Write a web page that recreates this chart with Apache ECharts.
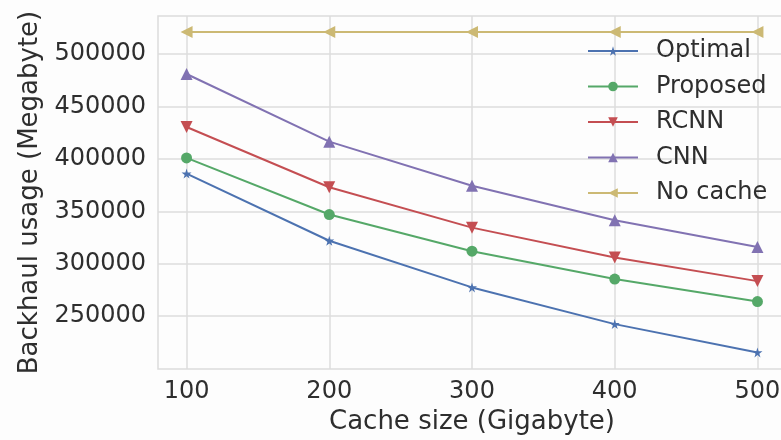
<!DOCTYPE html>
<html>
<head>
<meta charset="utf-8">
<script src="https://cdn.jsdelivr.net/npm/echarts@6/dist/echarts.min.js"></script>
<style>
  html, body { margin: 0; padding: 0; background: #fdfdfd; }
  #chart { width: 781px; height: 440px; }
</style>
</head>
<body>
<div id="chart"></div>
<script>
// cache sizes (Gigabyte)
const cacheSizes = [100, 200, 300, 400, 500];
// backhaul usage (Megabyte)
const optimal = [386000, 322000, 277500, 242500, 215500];
const proposed = [401000, 347000, 312000, 285500, 264000];
const rcnn = [430500, 373000, 334500, 306000, 283500];
const cnn = [481000, 416500, 374500, 341500, 316000];
const noCache = [521000, 521000, 521000, 521000, 521000];
const xTicks = [100, 200, 300, 400, 500];
const yTicks = [250000, 300000, 350000, 400000, 450000, 500000];

const font = "DejaVu Sans";
const textColor = "#2e2e2e";
const gridColor = "#dcdcdc";
const star = "path://M50,0 L61,35 L98,35 L68,57 L79,91 L50,70 L21,91 L32,57 L2,35 L39,35 Z";

function pairs(vals) {
  return cacheSizes.map((x, i) => [x, vals[i]]);
}

function line(name, vals, color, symbol, size, rotate) {
  return {
    name: name,
    type: "line",
    data: pairs(vals),
    symbol: symbol,
    symbolSize: size,
    symbolRotate: rotate || 0,
    showSymbol: true,
    lineStyle: { width: 2, color: color },
    itemStyle: { color: color },
    emphasis: { disabled: true },
    animation: false,
  };
}

const chart = echarts.init(document.getElementById("chart"));
chart.setOption({
  backgroundColor: "#fdfdfd",
  textStyle: { fontFamily: font },
  grid: {
    left: 158,
    top: 16,
    width: 628,
    height: 353,
    outerBoundsMode: "none",
    containLabel: false,
    show: true,
    borderColor: gridColor,
    borderWidth: 1.5,
    backgroundColor: "#fdfdfd",
  },
  legend: {
    orient: "vertical",
    left: 587,
    top: 38,
    padding: 0,
    itemWidth: 50,
    itemHeight: 12,
    itemGap: 9.5,
    textStyle: { fontFamily: font, fontSize: 24, color: textColor, lineHeight: 26, padding: [0, 0, 0, 13] },
    data: ["Optimal", "Proposed", "RCNN", "CNN", "No cache"],
  },
  xAxis: {
    type: "value",
    min: 80,
    max: 520,
    name: "Cache size (Gigabyte)",
    nameLocation: "middle",
    nameGap: 38,
    nameTextStyle: { fontFamily: font, fontSize: 26, color: textColor },
    axisLine: { show: false },
    axisTick: { show: false, customValues: xTicks },
    axisLabel: { customValues: xTicks, fontFamily: font, fontSize: 24, color: textColor, margin: 11 },
    splitLine: { show: true, lineStyle: { color: gridColor, width: 1.5 } },
  },
  yAxis: {
    type: "value",
    min: 199700,
    max: 536300,
    name: "Backhaul usage (Megabyte)",
    nameLocation: "middle",
    nameGap: 109,
    nameTextStyle: { fontFamily: font, fontSize: 26, color: textColor },
    axisLine: { show: false },
    axisTick: { show: false, customValues: yTicks },
    axisLabel: { customValues: yTicks, formatter: (v) => String(v), fontFamily: font, fontSize: 24, color: textColor, margin: 12 },
    splitLine: { show: true, lineStyle: { color: gridColor, width: 1.5 } },
  },
  series: [
    line("Optimal", optimal, "#4C72B0", star, 10),
    line("Proposed", proposed, "#55A868", "circle", 11),
    line("RCNN", rcnn, "#C44E52", "triangle", 12, 180),
    line("CNN", cnn, "#8172B2", "triangle", 12),
    line("No cache", noCache, "#CCB974", "triangle", 12, 90),
  ],
});
</script>
</body>
</html>
